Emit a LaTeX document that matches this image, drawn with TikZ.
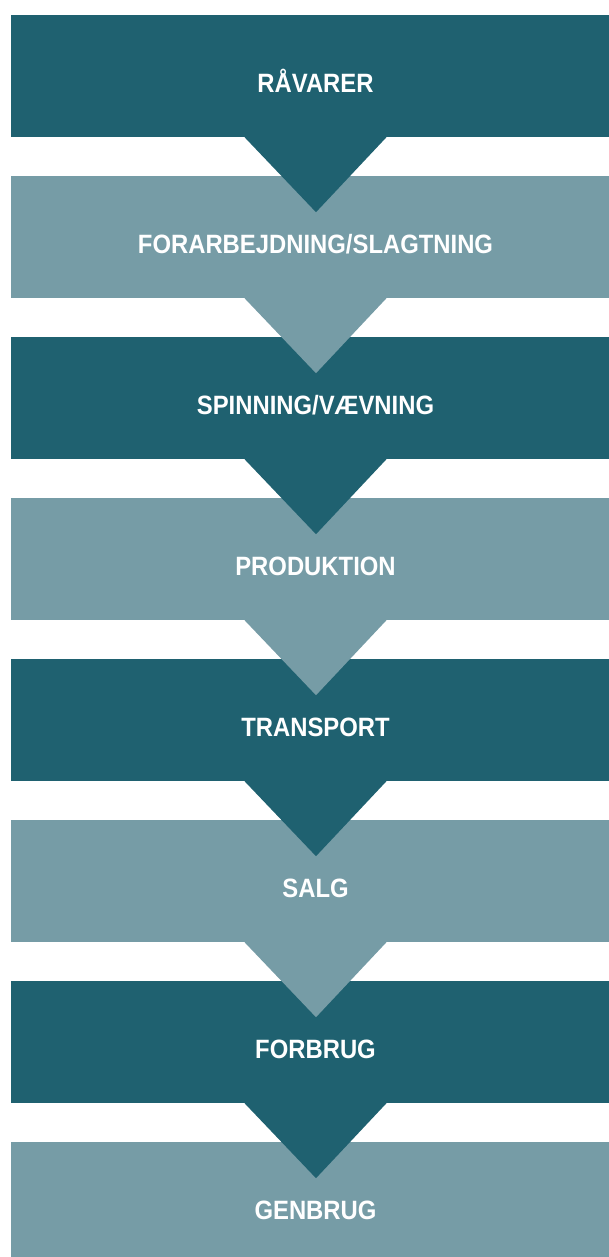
\documentclass[tikz,border=0pt]{standalone}
\usepackage{fontspec}
\newfontfamily\labelfont{Liberation Sans}[FakeStretch=0.9]
\usetikzlibrary{calc}
\definecolor{darkteal}{HTML}{1F6170}
\definecolor{lightteal}{HTML}{769CA6}
\tikzset{
  stagebox/.style={rectangle, inner sep=0pt, minimum width=609pt, minimum height=122pt,
    text height=40.5pt, text depth=7.5pt, text=white,
    font=\labelfont\bfseries\fontsize{26.5}{30}\selectfont},
  darkbox/.style={stagebox, fill=darkteal},
  lightbox/.style={stagebox, fill=lightteal},
}
\begin{document}
\begin{tikzpicture}[x=1pt,y=-1pt]
\useasboundingbox (0,0) rectangle (609,1257);
\clip (0,0) rectangle (609,1257);
\node[darkbox]  (b1) at (315.5,76)   {RÅVARER};
\node[lightbox] (b2) at (315.5,237)  {FORARBEJDNING/SLAGTNING};
\node[darkbox]  (b3) at (315.5,398)  {SPINNING/VÆVNING};
\node[lightbox] (b4) at (315.5,559)  {PRODUKTION};
\node[darkbox]  (b5) at (315.5,720)  {TRANSPORT};
\node[lightbox] (b6) at (315.5,881)  {SALG};
\node[darkbox]  (b7) at (315.5,1042) {FORBRUG};
\node[lightbox] (b8) at (315.5,1203) {GENBRUG};
\foreach \b/\c in {b1/darkteal,b2/lightteal,b3/darkteal,b4/lightteal,b5/darkteal,b6/lightteal,b7/darkteal}{
  \fill[\c] ($(\b.south)+(-71,0)$) -- ($(\b.south)+(71,0)$) -- ($(\b.south)+(0.5,75)$) -- cycle;
}
\end{tikzpicture}
\end{document}
